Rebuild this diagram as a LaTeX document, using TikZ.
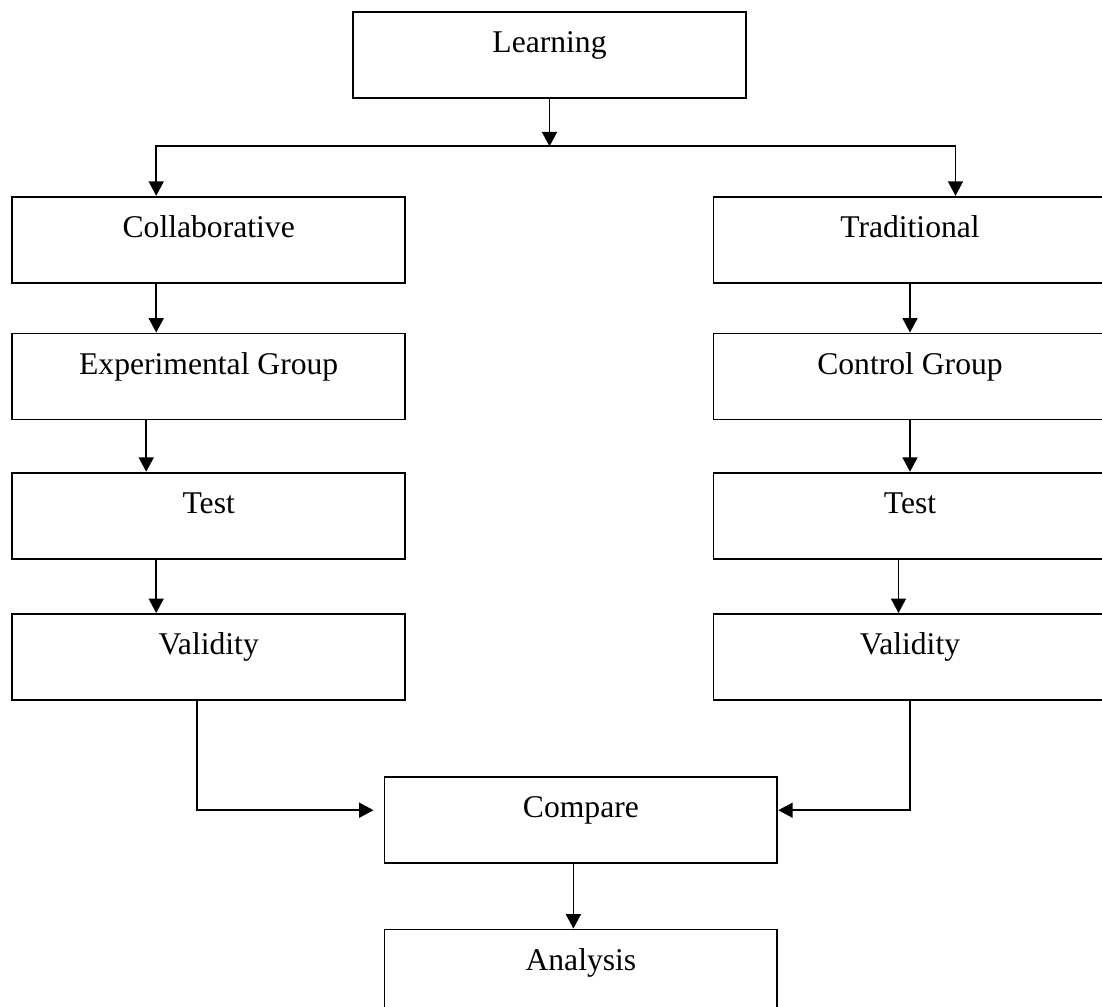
\documentclass[tikz,border=0pt]{standalone}
\usepackage{fontspec}
\setmainfont{Liberation Serif}
\usetikzlibrary{shapes,arrows.meta,positioning,calc}
\tikzset{
block/.style = {draw, fill=white, rectangle, minimum width=7.86cm, inner xsep=0pt, inner ysep=0pt, text height=0.82cm, text depth=0.9cm, font=\fontsize{18}{21}\selectfont},
tmp/.style  = {coordinate}
}

\begin{document}
\begin{tikzpicture}[x=0.02cm, y=0.02cm, node distance=1cm, line width=1pt, >={Triangle[length=0.29cm,width=0.3cm]}]
    \useasboundingbox (0,0) rectangle (1102,-1007);
    \clip (0,0) rectangle (1102,-1007);
    \node [block] (learn) at (549.5,-55) {Learning};
    \node [tmp, below=0.95cm of learn] (split) {};
    \node [block] (collab) at (208.7,-239.7) {Collaborative};
    \node [block, below=0.98cm of collab] (expgrp) {Experimental Group};
    \node [block, below=1.03cm of expgrp] (testL) {Test};
    \node [block, below=1.07cm of testL] (valL) {Validity};
    \node [block] (trad) at (910,-239.7) {Traditional};
    \node [block, below=0.98cm of trad] (ctrlgrp) {Control Group};
    \node [block, below=1.03cm of ctrlgrp] (testR) {Test};
    \node [block, below=1.07cm of testR] (valR) {Validity};
    \node [block] (cmp) at (580.9,-819.7) {Compare};
    \node [block, below=1.3cm of cmp] (analysis) {Analysis};
    \draw [->] (learn) -- (split);
    \draw [->] (split) -| ([xshift=-1.05cm]collab.north);
    \draw [->] (split) -| ([xshift=0.91cm]trad.north);
    \draw [->] ([xshift=-1.05cm]collab.south) -- ([xshift=-1.05cm]expgrp.north);
    \draw [->] ([xshift=-1.25cm]expgrp.south) -- ([xshift=-1.25cm]testL.north);
    \draw [->] ([xshift=-1.05cm]testL.south) -- ([xshift=-1.05cm]valL.north);
    \draw [->] (trad) -- (ctrlgrp);
    \draw [->] (ctrlgrp) -- (testR);
    \draw [->] ([xshift=-0.23cm]testR.south) -- ([xshift=-0.23cm]valR.north);
    \draw [->, shorten >=0.2cm] ([xshift=-0.23cm]valL.south) |- ([yshift=0.19cm]cmp.west);
    \draw [->] (valR) |- ([yshift=0.19cm]cmp.east);
    \draw [->] ([xshift=-0.15cm]cmp.south) -- ([xshift=-0.15cm]analysis.north);
\end{tikzpicture}
\end{document}
